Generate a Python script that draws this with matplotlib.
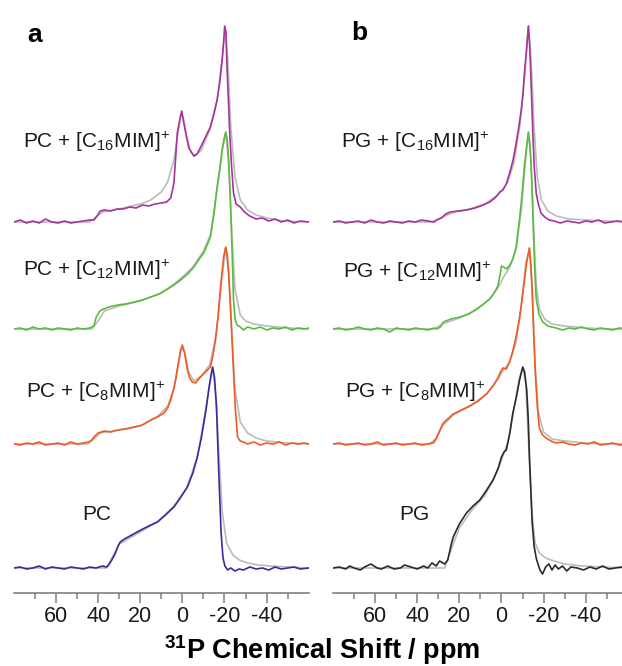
import matplotlib.pyplot as plt

plt.rcParams['font.family'] = ['Liberation Sans', 'DejaVu Sans']
plt.rcParams['mathtext.default'] = 'regular'
plt.rcParams['axes.unicode_minus'] = False

# --- data (ppm, intensity above own baseline) ---
# panel a : PC
a_c16_ppm = [80, 77, 74, 71, 68, 65, 62, 59, 56, 53, 50, 47, 44, 42, 40.5, 39, 37, 34, 31, 28,
             25, 22, 19, 16, 13, 10, 7.5, 5.5, 4, 2.4, 1, 0.3, -0.6, -1.6, -3.1, -5.4, -7, -8.7, -11, -13.3,
             -15, -16.5, -17.8, -18.9, -19.6, -20.1, -20.7, -21.2, -22, -22.5,
             -23.4, -24.3, -25.5, -27.5, -29.5, -32, -35, -38, -41, -44, -47, -50, -53, -56, -60]
a_c16_int = [0, 2, -1, 1, -1, 3, 0, -1, 1, -1, 0, 1, 2, 2, 6, 11, 12, 11, 13, 13,
             15, 14, 17, 16, 18, 19, 20, 24, 39, 89, 105, 111, 100, 89, 74, 66, 68, 75, 85, 95,
             108, 122, 140, 162, 180, 196, 190, 155, 115, 89,
             55, 29, 18, 15, 10, 6, 3, 4, 1, 3, 0, 2, -1, 1, 0]
a_c16_fit_ppm = [80, 44, 41, 38, 30, 20, 15, 10, 7, 4, 2, 0.5, -0.5, -2, -4, -6, -9, -13, -16.5, -19,
                 -20.3, -21.5, -23, -25, -27.5, -31, -35, -40, -48, -60]
a_c16_fit_int = [0, 0, 5, 10, 13, 18, 22, 30, 40, 62, 90, 108, 104, 85, 70, 66, 72, 92, 122, 165,
                 194, 165, 95, 45, 22, 12, 7, 4, 1, 0]

a_c12_ppm = [80, 77, 74, 71, 68, 65, 62, 59, 56, 53, 50, 47, 44, 42, 40.9, 39.5, 38.5, 35, 30.7, 27,
             22.8, 19, 15, 11, 7, 4, 0.8, -2.5, -5.5, -8, -10.2, -12, -13.3, -15, -16.5, -17.8, -18.9, -19.8, -20.6, -21.3,
             -22, -22.8, -23.6, -24.3, -25.1, -26, -27.5, -29, -31, -34, -37, -40, -43, -46, -49, -52, -55, -58, -60]
a_c12_int = [0, 1, -1, 2, 0, 1, -1, 1, 0, -1, 1, 0, 1, 3, 12, 17, 19, 22, 24, 25,
             27, 29, 32, 35, 40, 44, 49, 55, 62, 70, 76, 85, 92, 115, 142, 160, 179, 190, 197, 190,
             169, 129, 80, 29, 9, 4, 2, -1, 2, 0, 2, -1, 1, 0, 2, -1, 1, 0, 1]
a_c12_fit_ppm = [80, 43, 40, 37, 30, 20, 10, 4, 0, -5, -10, -13.5, -16.5, -19, -20.6, -22, -23.5, -25, -27.5, -30,
                 -34, -40, -50, -60]
a_c12_fit_int = [0, 0, 8, 18, 23, 28, 36, 45, 52, 62, 78, 95, 140, 180, 196, 165, 95, 40, 14, 8,
                 5, 3, 1, 0]

a_c8_ppm = [80, 77, 74, 71, 68, 65, 62, 59, 56, 53, 50, 47, 44.5, 43, 41.5, 40, 37, 34, 30.7, 27,
            22.8, 19, 15, 11, 8.7, 7, 5.5, 4.3, 3.2, 2, 0.8, 0, -1.1, -2.4, -3.5, -4.7, -6.3, -8.6, -11, -13.3,
            -14.5, -15.7, -17, -18, -19.6, -20.6, -21.3, -22, -22.8, -23.6,
            -24.4, -25.1, -26.2, -27.5, -29, -31, -34, -37, -40, -43, -46, -49, -52, -55, -58, -60]
a_c8_int = [0, -1, 1, 0, 2, -1, 0, 1, -1, 2, 0, 1, 2, 4, 8, 11, 13, 12, 14, 15,
            17, 19, 24, 28, 31, 36, 44, 54, 64, 80, 94, 99, 91, 74, 66, 62, 61, 67, 72, 77,
            88, 104, 128, 154, 187, 197, 190, 171, 140, 104,
            68, 37, 7, 3, 2, 0, 2, -1, 1, 0, 2, -1, 1, 0, 1, 0]
a_c8_fit_ppm = [80, 45, 42, 39, 30, 20, 12, 7, 4, 2, 0.5, -1, -3, -5.5, -9, -13, -16, -18.5, -20.5, -22,
                -23.5, -25, -27.5, -31, -35, -40, -50, -60]
a_c8_fit_int = [0, 0, 5, 11, 14, 18, 27, 38, 55, 78, 96, 92, 72, 63, 68, 79, 108, 160, 196, 170,
                110, 55, 22, 11, 6, 3, 1, 0]

a_pc_ppm = [80, 77, 74, 71, 68, 65, 62, 59, 56, 53, 50, 47, 44, 41, 38, 36, 35, 33.5, 32, 30.5,
            29.5, 27.5, 24, 19.7, 15, 11.8, 8, 4, 1, -2.4, -5, -7.1, -9, -10.2, -11.5, -12.5, -13.6, -14.4, -15.3, -16.2,
            -17.3, -18.4, -19.3, -20.2, -21.5, -23, -25, -27, -29, -32, -35, -38, -41, -44, -47, -50, -53, -56, -60]
a_pc_int = [0, 1, -1, 0, 2, -1, 1, 0, -1, 1, 0, -1, 1, 0, 2, 1, 3, 8, 14, 22,
            26, 29, 33, 38, 43, 46, 53, 61, 70, 81, 95, 111, 130, 145, 162, 178, 193, 201, 190, 161,
            95, 35, 10, 2, -2, 0, -3, -1, -2, 1, -1, 0, -2, 1, -1, 0, 1, -1, 0]
a_pc_fit_ppm = [80, 36, 33, 30, 25, 20, 12, 4, -2, -7, -10, -12.5, -14.4, -16, -17.5, -19, -21, -24, -27, -31,
                -36, -42, -50, -60]
a_pc_fit_int = [0, 0, 12, 24, 30, 36, 46, 62, 80, 110, 145, 178, 200, 170, 110, 55, 25, 13, 8, 5,
                3, 2, 1, 0]

# panel b : PG
b_c16_ppm = [80, 77, 74, 71, 68, 65, 62, 59, 56, 53, 50, 47, 44, 41, 38, 35, 32, 30.7, 28.5, 26.5,
             24.4, 20.5, 16.6, 12.5, 8.7, 5.5, 3.2, 1.8, 0.8, -0.7, -2.3, -3.9, -5.5, -7, -8.3, -9.4, -10.2, -10.9, -11.9, -12.8,
             -13.3, -13.8, -14.4, -14.9, -15.6, -16.5, -17.5, -18.8, -20.5, -22.7, -25, -28, -31, -34, -37, -40, -43, -46, -49, -52,
             -55, -58]
b_c16_int = [0, 1, -1, 0, 1, -1, 2, 0, -1, 1, 0, -1, 1, 0, 2, 1, 0, 2, 4, 8,
             10, 11, 12, 14, 17, 20, 24, 27, 30, 32, 38, 49, 62, 79, 96, 112, 128, 149, 172, 196,
             180, 155, 120, 89, 55, 29, 18, 9, 5, 2, 1, -1, 1, 0, -1, 1, 0, 2, -1, 0,
             1, 0]
b_c16_fit_ppm = [80, 33, 28, 22, 15, 8, 3, 0, -3, -6, -9, -11, -12.8, -14, -15.5, -17, -19, -22, -26, -32,
                 -40, -50, -60]
b_c16_fit_int = [0, 0, 5, 10, 13, 18, 25, 31, 40, 60, 100, 145, 196, 165, 95, 45, 22, 11, 6, 3,
                 2, 1, 0]

b_c12_ppm = [80, 77, 74, 71, 68, 65, 62, 59, 56, 53, 50, 47, 44, 41, 38, 35, 32, 30.7, 29, 27.6,
             24, 19.7, 15.5, 11.8, 8.5, 5.6, 3.5, 1.7, 0.6, 0, -1, -2.3, -4, -5.4, -7, -7.8, -8.6, -9.8, -10.9, -11.9,
             -12.8, -13.5, -14.1, -14.7, -15.2, -15.8, -16.5, -17.8, -19.6, -22, -25.9, -29, -32, -35, -38, -41, -44, -47, -50, -53,
             -56, -60]
b_c12_int = [0, 1, -1, 0, 2, 0, -1, 1, 0, -3, 1, 0, -1, 1, 0, -1, 1, 0, 2, 7,
             10, 12, 15, 20, 25, 30, 36, 43, 55, 63, 62, 60, 64, 70, 82, 97, 110, 135, 163, 182,
             197, 185, 163, 130, 97, 60, 30, 15, 7, 3, 1, -1, 1, 0, 2, 0, -1, 1, 0, -1,
             1, 0]
b_c12_fit_ppm = [80, 32, 28, 20, 12, 6, 2, -1, -4, -7, -9.5, -11.5, -12.8, -14, -15.3, -16.5, -18, -20.5, -24, -30,
                 -40, -50, -60]
b_c12_fit_int = [0, 0, 5, 11, 19, 29, 40, 52, 62, 80, 120, 170, 196, 170, 100, 45, 20, 10, 5, 3,
                 1, 0, 0]

b_c8_ppm = [80, 77, 74, 71, 68, 65, 62, 59, 56, 53, 50, 47, 44, 41, 38, 35, 33, 32.3, 31, 30,
            28.8, 27.6, 25, 22.9, 19, 15, 11, 7.1, 4, 1.7, 0.5, -0.7, -2.3, -3.8, -5.4, -7, -8.6, -9.8, -10.9, -12,
            -13.3, -14, -14.6, -15.3, -16.1, -17, -18, -19.5, -21.2, -23.5, -25.9, -29, -32, -35, -38, -41, -44, -47, -50, -53,
            -56, -60]
b_c8_int = [0, 1, -1, 0, 1, -1, 0, 2, -1, 0, 1, -1, 0, 1, -1, 0, 1, 1, 5, 10,
            16, 21, 26, 30, 34, 38, 43, 50, 58, 66, 72, 76, 75, 82, 93, 108, 126, 145, 163, 182,
            196, 178, 153, 110, 70, 38, 16, 9, 6, 3, 1, 2, 0, -1, 1, 0, 2, -1, 0, 1,
            -1, 0]
b_c8_fit_ppm = [80, 34, 31, 28, 23, 15, 7, 2, -1, -4, -7, -9.5, -11.5, -13.3, -14.6, -16, -17.5, -20, -24, -30,
                -40, -50, -60]
b_c8_fit_int = [0, 0, 6, 18, 29, 38, 50, 64, 74, 82, 102, 140, 180, 196, 155, 80, 32, 12, 5, 3,
                1, 0, 0]

b_pg_ppm = [80, 77, 74, 72, 70, 67, 65, 62, 59, 57, 54, 51, 48, 46, 43, 40, 37, 35, 33, 31,
            29.4, 27, 25.5, 23.8, 22.9, 20, 16.6, 13.5, 10.3, 7, 4, 1.5, 0, -1.2, -2.3, -4, -5.4, -7, -8.6, -10.1,
            -11, -12, -12.7, -13.3, -14, -14.6, -15.5, -16.5, -17.5, -18.3, -19.5, -21, -22.5, -24, -25.5, -27, -29, -31, -33, -36,
            -39, -42, -45, -48, -51, -54, -57, -60]
b_pg_int = [0, 1, -1, 2, 0, -2, 1, 4, 0, -1, 2, -1, 0, 3, 1, -1, 2, 0, 5, 2,
            7, 4, 8, 24, 31, 44, 55, 62, 68, 78, 88, 100, 111, 116, 118, 135, 155, 170, 188, 201,
            196, 178, 150, 111, 75, 45, 22, 10, 3, -2, -6, 1, 4, -2, 3, -1, 2, -3, 1, 0,
            -2, 1, -1, 2, -1, 0, 1, -1]
b_pg_fit_ppm = [80, 27, 24, 20, 14, 8, 3, 0, -3, -6, -8.5, -10.1, -11.5, -13, -14.5, -16, -18, -21, -25, -30,
                -38, -48, -60]
b_pg_fit_int = [0, 0, 18, 40, 58, 72, 92, 108, 125, 160, 190, 200, 185, 120, 55, 25, 15, 10, 7, 4,
                2, 1, 0]

offsets = [25, 149, 264, 371]   # bottom -> top stacking
colors = ['#3b2a9e', '#f05a24', '#5cbb3e', '#a8339c']
colors_b = ['#2a2a2a', '#f05a24', '#5cbb3e', '#a8339c']
fit_color = '#bbbbbb'

labels_a = ['PC', 'PC + [C$_{8}$MIM]$^{+}$', 'PC + [C$_{12}$MIM]$^{+}$', 'PC + [C$_{16}$MIM]$^{+}$']
labels_b = ['PG', 'PG + [C$_{8}$MIM]$^{+}$', 'PG + [C$_{12}$MIM]$^{+}$', 'PG + [C$_{16}$MIM]$^{+}$']
label_pos_a = [(82, 515), (26, 392), (23, 270), (23, 142)]
label_pos_b = [(399, 515), (345, 392), (343, 272), (341, 142)]

major_ticks = [60, 40, 20, 0, -20, -40]
minor_ticks = [70, 50, 30, 10, -10, -30, -50]
tick_labels = ['60', '40', '20', '0', '-20', '-40']

W, H = 622, 666
Y_AXIS = 593
fig = plt.figure(figsize=(W / 100, H / 100), dpi=100)

ax_a = fig.add_axes([13.9 / W, (H - Y_AXIS) / H, 294.8 / W, Y_AXIS / H])
ax_b = fig.add_axes([333 / W, (H - Y_AXIS) / H, 294.8 / W, Y_AXIS / H])

panels = [
    (ax_a, [(a_pc_ppm, a_pc_int), (a_c8_ppm, a_c8_int), (a_c12_ppm, a_c12_int), (a_c16_ppm, a_c16_int)],
     [(a_pc_fit_ppm, a_pc_fit_int), (a_c8_fit_ppm, a_c8_fit_int), (a_c12_fit_ppm, a_c12_fit_int),
      (a_c16_fit_ppm, a_c16_fit_int)], colors),
    (ax_b, [(b_pg_ppm, b_pg_int), (b_c8_ppm, b_c8_int), (b_c12_ppm, b_c12_int), (b_c16_ppm, b_c16_int)],
     [(b_pg_fit_ppm, b_pg_fit_int), (b_c8_fit_ppm, b_c8_fit_int), (b_c12_fit_ppm, b_c12_fit_int),
      (b_c16_fit_ppm, b_c16_fit_int)], colors_b),
]

for ax, spectra, fits, cols in panels:
    # draw from top trace down so lower traces sit on top
    for i in range(3, -1, -1):
        fp, fi = fits[i]
        ax.plot(fp, [v + offsets[i] for v in fi], color=fit_color, lw=1.2, zorder=2 + 2 * (3 - i))
        p, v = spectra[i]
        ax.plot(p, [y + offsets[i] for y in v], color=cols[i], lw=1.2, zorder=3 + 2 * (3 - i))
    ax.set_xlim(80, -60)
    ax.set_ylim(0, Y_AXIS)
    for s in ['top', 'left', 'right']:
        ax.spines[s].set_visible(False)
    ax.spines['bottom'].set_color('#808080')
    ax.spines['bottom'].set_linewidth(1.2)
    ax.set_yticks([])
    ax.set_xticks(major_ticks)
    ax.set_xticklabels(tick_labels)
    ax.set_xticks(minor_ticks, minor=True)
    ax.tick_params(axis='x', which='major', direction='out', length=7.2, width=1.1,
                   color='#808080', labelsize=15.5, labelcolor='#1a1a1a', pad=2)
    ax.tick_params(axis='x', which='minor', direction='out', length=4.3, width=1.1, color='#808080')
    ax.patch.set_visible(False)

for lab, (x, y) in zip(labels_a + labels_b, label_pos_a + label_pos_b):
    fig.text(x / W, 1 - y / H, lab, ha='left', va='center', fontsize=15, color='#1a1a1a')

fig.text(27 / W, 1 - 35 / H, 'a', ha='left', va='center', fontsize=19, fontweight='bold')
fig.text(351 / W, 1 - 33 / H, 'b', ha='left', va='center', fontsize=19, fontweight='bold')

fig.text(322 / W, 1 - 659 / H, '$^{31}$P Chemical Shift / ppm', ha='center', va='baseline',
         fontsize=19.5, fontweight='bold')

fig.savefig('out.png', dpi=100)
